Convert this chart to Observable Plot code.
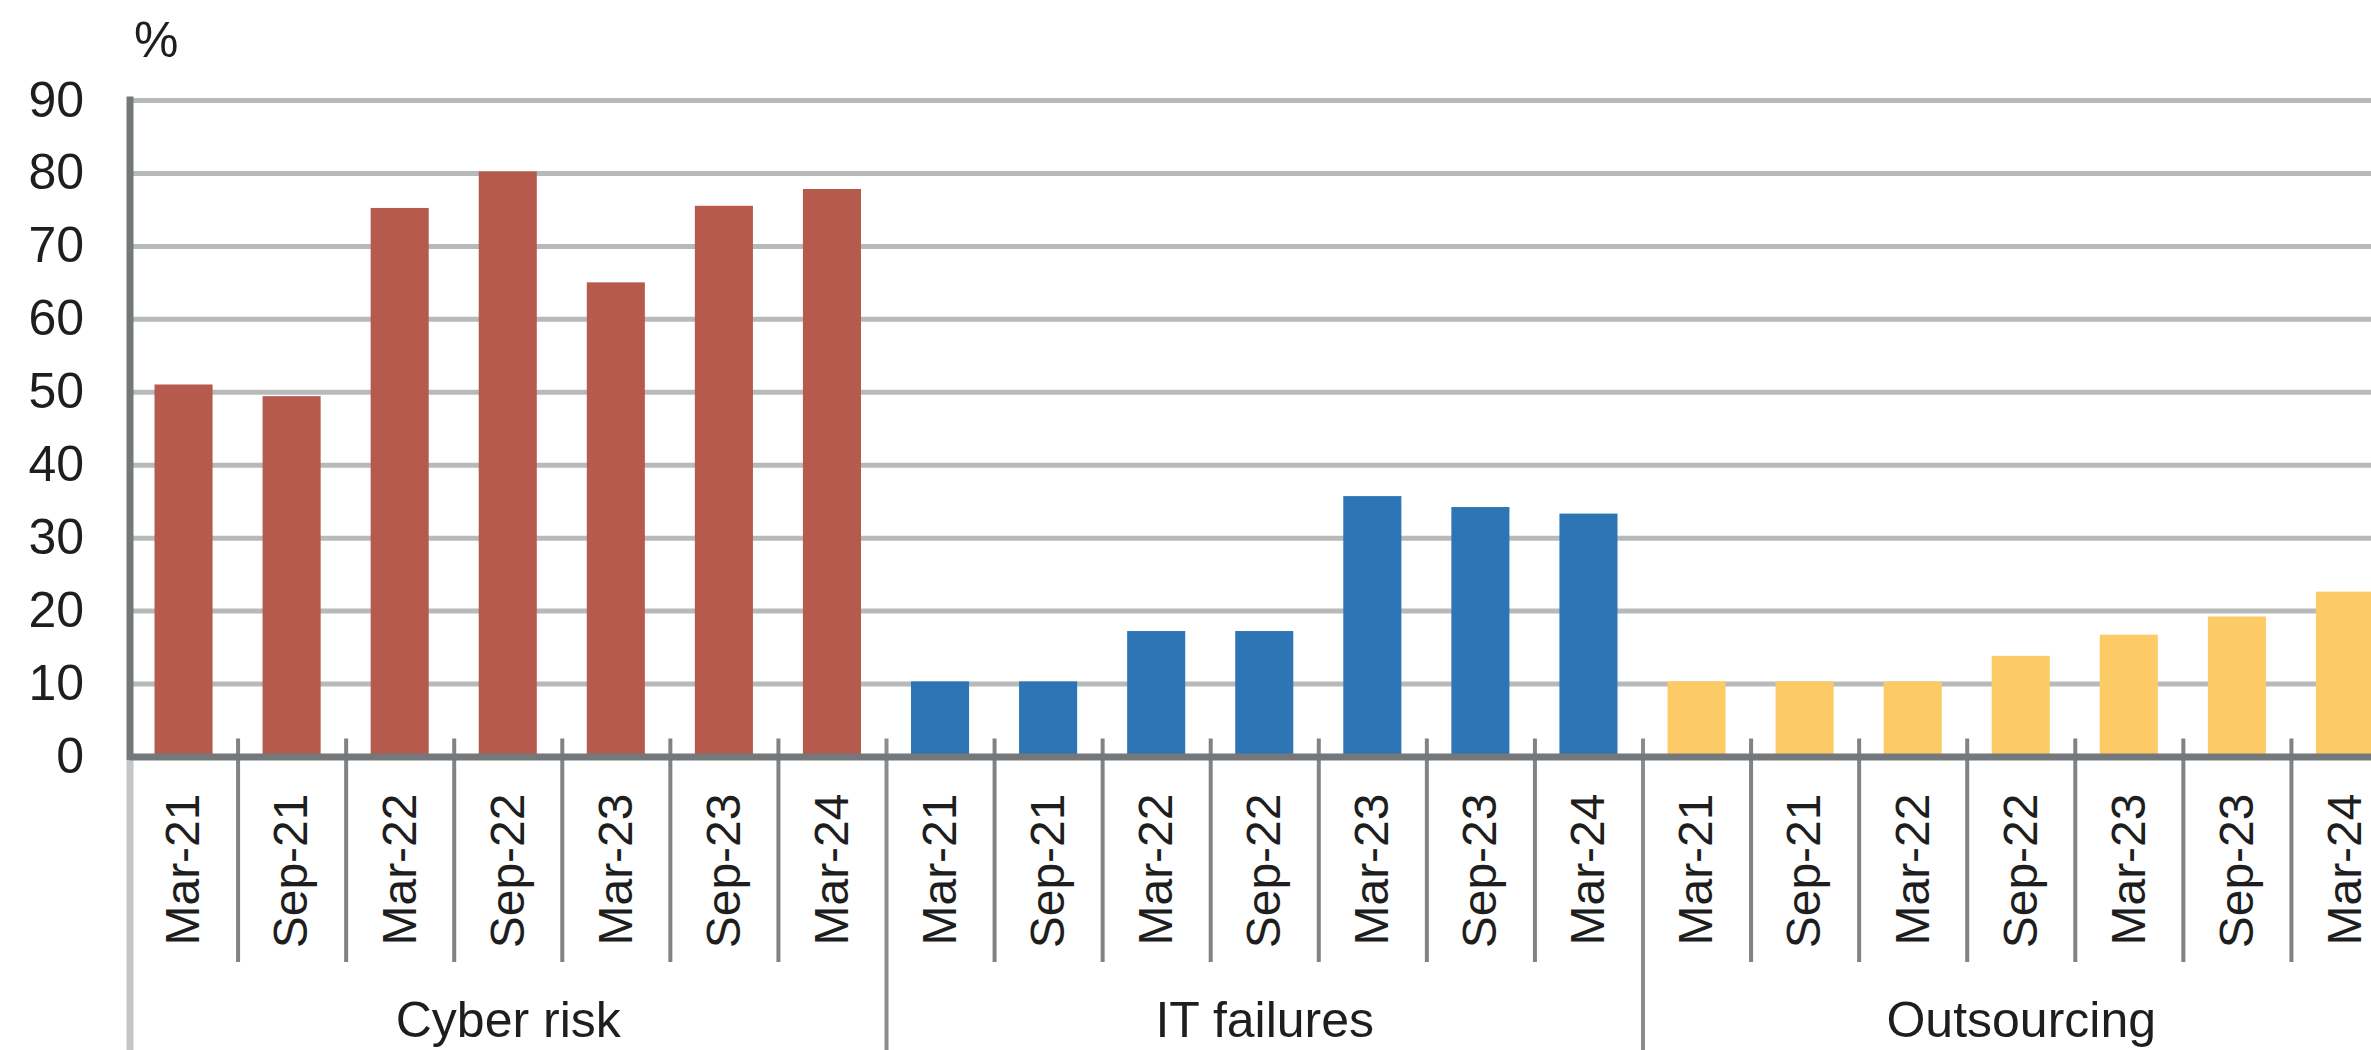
<!DOCTYPE html>
<html>
<head>
<meta charset="utf-8">
<script src="https://cdn.jsdelivr.net/npm/d3@7"></script>
<script src="https://cdn.jsdelivr.net/npm/@observablehq/plot@0.6"></script>
<style>
  html, body { margin: 0; padding: 0; background: #fff; overflow: hidden; }
  #chart { width: 2371px; height: 1050px; overflow: hidden; }
  #chart svg { display: block; max-width: none !important; width: 2399px !important; height: 1050px !important; }
</style>
</head>
<body>
<div id="chart"></div>
<script>
const groups = ["Cyber risk", "IT failures", "Outsourcing"];
const periods = ["Mar-21", "Sep-21", "Mar-22", "Sep-22", "Mar-23", "Sep-23", "Mar-24"];
const cyberRisk = [51, 49.4, 75.2, 80.2, 65, 75.5, 77.8];
const itFailures = [10.3, 10.3, 17.2, 17.2, 35.7, 34.2, 33.3];
const outsourcing = [10.3, 10.3, 10.3, 13.8, 16.7, 19.2, 22.6];
const colors = ["#b55a4c", "#2e75b6", "#fdcb65"];
const yTicks = [0, 10, 20, 30, 40, 50, 60, 70, 80, 90];

const series = [cyberRisk, itFailures, outsourcing];
const data = [];
series.forEach((vals, g) => vals.forEach((v, j) => data.push({
  group: groups[g], period: periods[j], value: v, start: g * periods.length + j
})));
const n = data.length;
const slotCenters = data.map(d => d.start + 0.5);
const groupCenters = groups.map((g, k) => k * periods.length + periods.length / 2);
const innerBounds = d3.range(1, n).filter(i => i % periods.length !== 0);
const groupBounds = d3.range(1, n).filter(i => i % periods.length === 0);

const ink = "#1e1e1e";
const chart = Plot.plot({
  width: 2399,
  height: 1050,
  marginTop: 100,
  marginBottom: 293.5,
  marginLeft: 129.5,
  marginRight: 0,
  style: {fontFamily: "'Liberation Sans', Arial, sans-serif", fontSize: "50px", color: ink, background: "#fff", overflow: "visible"},
  x: {type: "linear", domain: [0, n], axis: null},
  y: {domain: [0, 90], axis: null},
  color: {domain: groups, range: colors},
  marks: [
    Plot.ruleY(yTicks.filter(t => t > 0), {stroke: "#b8baba", strokeWidth: 5}),
    Plot.rectY(data, {x1: "start", x2: d => d.start + 1, y: "value", fill: "group", insetLeft: 25, insetRight: 25}),
    // y-axis line and its light extension below
    Plot.ruleX([0], {y1: 0, y2: 90, stroke: "#75787b", strokeWidth: 7, strokeLinecap: "square"}),
    Plot.ruleX([0], {stroke: "#c6c6c6", strokeWidth: 7, insetTop: 660, insetBottom: -293.5}),
    // separators between periods and between groups
    Plot.ruleX(innerBounds, {stroke: "#808285", strokeWidth: 4, insetTop: 638.5, insetBottom: -205.5}),
    Plot.ruleX(groupBounds, {stroke: "#8a8c8e", strokeWidth: 4, insetTop: 638.5, insetBottom: -293.5}),
    // baseline
    Plot.ruleY([0], {stroke: "#75787b", strokeWidth: 7}),
    Plot.axisY(yTicks, {tickSize: 0, tickPadding: 46, label: null, fill: ink, fontSize: 50}),
    Plot.axisX(slotCenters, {tickFormat: d => periods[Math.floor(d) % periods.length], tickRotate: -90, tickSize: 0, tickPadding: 36.5, label: null, fill: ink, fontSize: 48}),
    Plot.axisX(groupCenters, {tickFormat: d => groups[Math.floor(d / periods.length)], tickSize: 0, tickPadding: 244, label: null, fill: ink, fontSize: 50}),
    Plot.text(["%"], {frameAnchor: "top-left", dx: 4, dy: -60, textAnchor: "start", lineAnchor: "middle", fill: ink, fontSize: 50})
  ]
});
document.getElementById("chart").append(chart);
</script>
</body>
</html>
